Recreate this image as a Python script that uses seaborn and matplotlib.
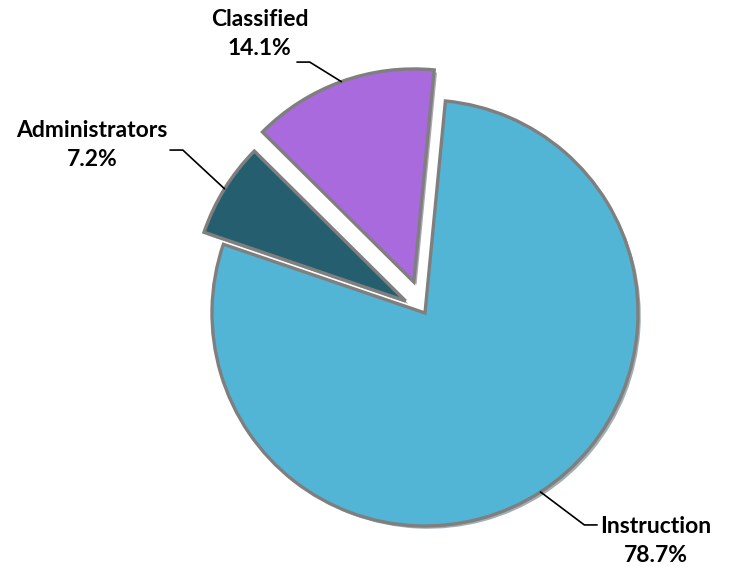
import numpy as np
import matplotlib
matplotlib.use("Agg")
import matplotlib.pyplot as plt
import matplotlib.patheffects as pe
import seaborn as sns

# data
categories = ["Instruction", "Administrators", "Classified"]
shares = [78.7, 7.2, 14.1]
colors = ["#52B5D5", "#255F6F", "#A86ADC"]
explode = [0.0, 0.107, 0.155]

# label layout (text centre, end of leader next to the text)
label_pos = [(1.085, -1.07), (-1.563, 0.789), (-0.776, 1.31)]
leader_end = [(0.808, -0.995), (-1.197, 0.765), (-0.601, 1.178)]

sns.set_theme(style="white")
plt.rcParams["font.family"] = ["Lato", "DejaVu Sans"]

fig = plt.figure(figsize=(7.35, 5.67), dpi=100)
ax = fig.add_axes([0, 0, 1, 1])

wedges, _ = ax.pie(
    shares, colors=colors, explode=explode, startangle=84.5,
    counterclock=False, radius=1.0,
    wedgeprops=dict(edgecolor="#7F7F7F", linewidth=2.4),
)
for w in wedges:
    w.set_path_effects([pe.SimplePatchShadow(offset=(2, -2), alpha=0.4), pe.Normal()])

for w, name, val, (tx, ty), (lx, ly) in zip(wedges, categories, shares, label_pos, leader_end):
    mid = np.deg2rad((w.theta1 + w.theta2) / 2)
    cx, cy = w.center
    px = cx + w.r * np.cos(mid)
    py = cy + w.r * np.sin(mid)
    elbow = lx + (0.06 if lx < px else -0.06)
    ax.plot([px, elbow, lx], [py, ly, ly], color="black", lw=1.2, zorder=5)
    ax.text(tx, ty, f"{name}\n{val:.1f}%", ha="center", va="center",
            fontsize=16.5, fontweight="bold", color="black", linespacing=1.45)

ax.set_xlim(-425 / 213, (735 - 425) / 213)
ax.set_ylim(-254 / 213, (567 - 254) / 213)
ax.set_aspect("equal")
ax.axis("off")

fig.savefig("out.png", dpi=100)
